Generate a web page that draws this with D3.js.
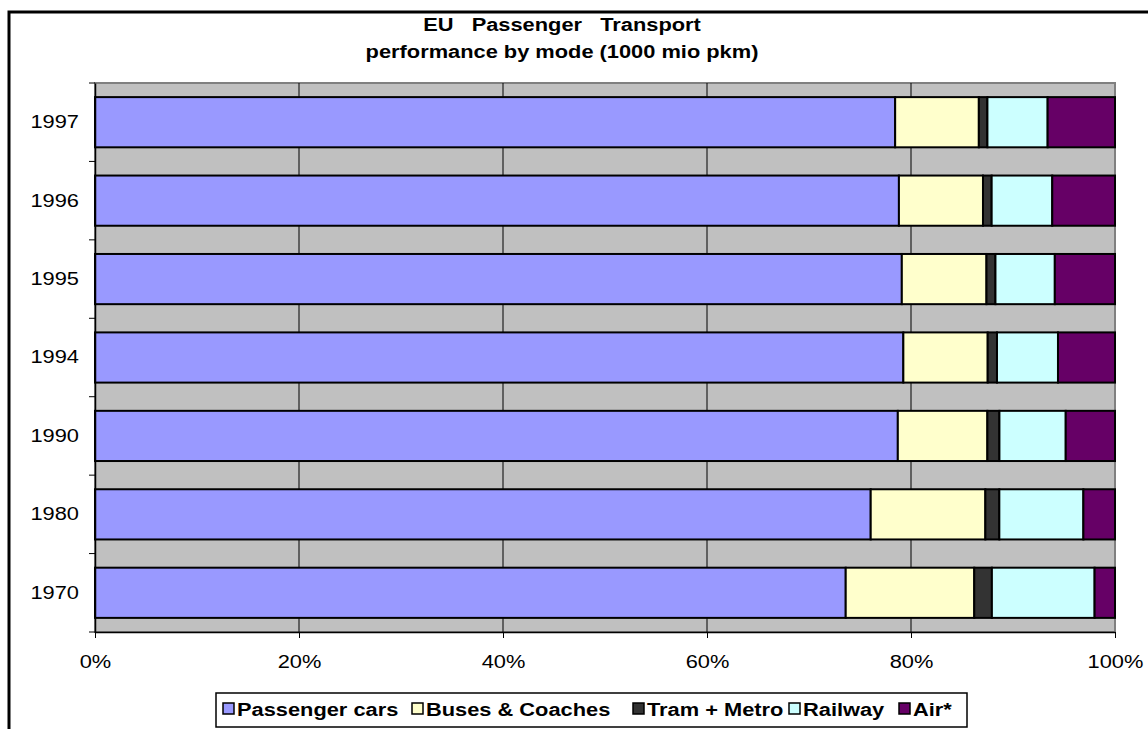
<!DOCTYPE html>
<html>
<head>
<meta charset="utf-8">
<script src="https://cdn.jsdelivr.net/npm/d3@7"></script>
<style>
  body { margin: 0; background: #fff; }
  svg text { font-family: "Liberation Sans", Arial, sans-serif; }
</style>
</head>
<body>
<div id="chart"></div>
<script>
// share of passenger-km by mode (%)
var years = ["1997", "1996", "1995", "1994", "1990", "1980", "1970"];
var modes = ["Passenger cars", "Buses & Coaches", "Tram + Metro", "Railway", "Air*"];
var cars    = [78.4, 78.8, 79.1, 79.25, 78.7, 76.05, 73.6];
var buses   = [8.2, 8.24, 8.3, 8.27, 8.78, 11.24, 12.6];
var tram    = [0.84, 0.85, 0.88, 0.91, 1.18, 1.37, 1.73];
var railway = [5.9, 5.94, 5.82, 5.98, 6.5, 8.24, 10.07];
var air     = [6.6, 6.15, 5.9, 5.59, 4.83, 3.1, 2.0];
var colors  = ["#9999FF", "#FFFFCC", "#333333", "#CCFFFF", "#660066"];
var xTicks  = [0, 0.2, 0.4, 0.6, 0.8, 1];

var W = 1148, H = 729;
var margin = {top: 83, right: 33, bottom: 97, left: 95};
var sx = 1.18;      // the original text is a bit wider than plain Arial
var fs = 18.5;

var series = [cars, buses, tram, railway, air];
var rows = years.map(function(y, i) {
  var r = {year: y};
  modes.forEach(function(m, j) { r[m] = series[j][i]; });
  return r;
});

var stacked = d3.stack().keys(modes).offset(d3.stackOffsetExpand)(rows);

var svg = d3.select("#chart").append("svg")
    .attr("width", W)
    .attr("height", H);

// outer chart frame
svg.append("rect")
    .attr("x", 9).attr("y", 12)
    .attr("width", W + 10).attr("height", H + 10)
    .attr("fill", "#fff")
    .attr("stroke", "#000")
    .attr("stroke-width", 3);

var x = d3.scaleLinear()
    .domain([0, 1])
    .range([margin.left, W - margin.right]);

var y = d3.scaleBand()
    .domain(years)
    .range([margin.top, H - margin.bottom])
    .paddingInner(0.36)
    .paddingOuter(0.18);

// plot area
svg.append("rect")
    .attr("x", x(0)).attr("y", margin.top)
    .attr("width", x(1) - x(0))
    .attr("height", H - margin.bottom - margin.top)
    .attr("fill", "#C0C0C0")
    .attr("stroke", "#808080")
    .attr("stroke-width", 2);

// vertical gridlines
svg.append("g")
  .selectAll("line")
  .data(xTicks.slice(1, -1))
  .enter().append("line")
    .attr("x1", function(d) { return x(d); })
    .attr("x2", function(d) { return x(d); })
    .attr("y1", margin.top)
    .attr("y2", H - margin.bottom)
    .attr("stroke", "#000")
    .attr("stroke-width", 1);

// bars
svg.append("g")
  .selectAll("g")
  .data(stacked)
  .enter().append("g")
    .attr("fill", function(d, i) { return colors[i]; })
  .selectAll("rect")
  .data(function(d) { return d; })
  .enter().append("rect")
    .attr("x", function(d) { return x(d[0]); })
    .attr("width", function(d) { return x(d[1]) - x(d[0]); })
    .attr("y", function(d) { return y(d.data.year); })
    .attr("height", y.bandwidth())
    .attr("stroke", "#000")
    .attr("stroke-width", 2);

// x axis
var xAxis = svg.append("g")
    .attr("transform", "translate(0," + (H - margin.bottom) + ")")
    .call(d3.axisBottom(x).tickValues(xTicks).tickFormat(d3.format(".0%")).tickSizeInner(6).tickSizeOuter(0).tickPadding(17));
xAxis.select(".domain").attr("stroke", "#000").attr("stroke-width", 1.5);
xAxis.selectAll("text")
    .attr("font-size", fs).attr("fill", "#000")
    .attr("transform", "scale(" + sx + ",1)");
xAxis.selectAll(".tick line").attr("stroke", "#000");

// y axis
var yAxis = svg.append("g")
    .attr("transform", "translate(" + margin.left + ",0)")
    .call(d3.axisLeft(y).tickSize(0));
yAxis.select(".domain").attr("stroke", "#000").attr("stroke-width", 1.5);
yAxis.selectAll("text")
    .attr("font-size", fs).attr("fill", "#000")
    .attr("x", -16 / sx)
    .attr("transform", "scale(" + sx + ",1)");

// y ticks at category boundaries
var step = y.step();
var bounds = years.map(function(d) { return y(d) - step * y.paddingInner() / 2; });
bounds.push(H - margin.bottom);
svg.append("g")
  .selectAll("line")
  .data(bounds)
  .enter().append("line")
    .attr("x1", margin.left - 6)
    .attr("x2", margin.left)
    .attr("y1", function(d) { return d; })
    .attr("y2", function(d) { return d; })
    .attr("stroke", "#000");

// title
var titleLines = ["EU   Passenger   Transport", "performance by mode (1000 mio pkm)"];
svg.append("g")
  .selectAll("text")
  .data(titleLines)
  .enter().append("text")
    .attr("transform", function(d, i) { return "translate(562," + (31 + i * 27) + ") scale(" + sx + ",1)"; })
    .attr("text-anchor", "middle")
    .attr("font-weight", "bold")
    .attr("font-size", fs)
    .attr("xml:space", "preserve")
    .style("white-space", "pre")
    .text(function(d) { return d; });

// legend
var legend = svg.append("g");
legend.append("rect")
    .attr("x", 216).attr("y", 693)
    .attr("width", 751).attr("height", 34)
    .attr("fill", "#fff")
    .attr("stroke", "#000")
    .attr("stroke-width", 1.5);

var legX = [223, 412, 633, 789, 899];
var items = legend.selectAll("g.item")
  .data(modes)
  .enter().append("g")
    .attr("class", "item")
    .attr("transform", function(d, i) { return "translate(" + legX[i] + ",703)"; });
items.append("rect")
    .attr("width", 11).attr("height", 11)
    .attr("fill", function(d, i) { return colors[i]; })
    .attr("stroke", "#000")
    .attr("stroke-width", 1.5);
items.append("text")
    .attr("transform", "translate(14,13) scale(" + sx + ",1)")
    .attr("font-size", fs)
    .attr("font-weight", "bold")
    .text(function(d) { return d; });
</script>
</body>
</html>
